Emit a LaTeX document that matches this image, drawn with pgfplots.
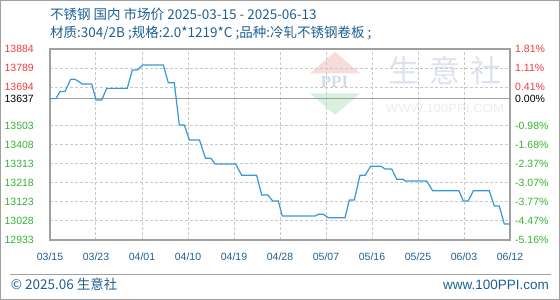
\documentclass[border=0pt]{standalone}
\usepackage{pgfplots}
\pgfplotsset{compat=1.18}
\usepackage{fontspec}
\setmainfont{Liberation Sans}
\newfontfamily\cjk{Noto Sans CJK SC}
\newfontfamily\lib{Liberation Sans}
\newfontfamily\libserif{Liberation Serif}
\definecolor{txtblue}{RGB}{30,95,145}
\definecolor{lineblue}{RGB}{52,152,219}
\definecolor{lred}{RGB}{240,60,60}
\definecolor{lgreen}{RGB}{50,180,50}
\definecolor{gridgray}{RGB}{200,200,200}
\definecolor{framegray}{RGB}{160,160,160}
\definecolor{wmpink}{RGB}{248,220,220}
\definecolor{wmgreen}{RGB}{216,240,222}
\definecolor{wmblue}{RGB}{212,219,232}
\definecolor{wmtext}{RGB}{221,226,238}
\definecolor{wmlight}{RGB}{236,236,236}
\begin{document}
\begin{tikzpicture}[x=1pt,y=1pt]
\useasboundingbox (0,0) rectangle (560,300);
\draw[color=framegray, line width=1pt] (0.5,0.5) rectangle (559.5,299.5);
% watermark
\fill[wmpink] (335,248.3) -- (310,226.7) -- (360,226.7) -- cycle;
\fill[wmgreen] (310,206.7) -- (360,206.7) -- (335,185) -- cycle;
\node[font=\libserif\bfseries\fontsize{17}{17}\selectfont, text=wmblue] at (334.5,218.5) {PPI};
\node[font=\cjk\fontsize{31}{31}\selectfont, text=wmtext] at (445,229) {生\hspace{10pt}意\hspace{10pt}社};
\node[font=\lib\fontsize{12}{12}\selectfont, text=wmlight, xscale=1.1] at (445,192) {WWW.100PPI.COM};
% titles
\node[anchor=base west, inner sep=0, font=\cjk\fontsize{13.5}{14}\selectfont, text=txtblue] at (50,280.5) {不锈钢 国内 市场价 2025-03-15 - 2025-06-13};
\node[anchor=base west, inner sep=0, font=\cjk\fontsize{13.5}{14}\selectfont, text=txtblue] at (50,262) {材质:304/2B ;规格:2.0*1219*C ;品种:冷轧不锈钢卷板 ;};
% footer
\draw[color=framegray, line width=1pt] (10,25) -- (551,25);
\node[anchor=base west, inner sep=0, font=\cjk\fontsize{13.5}{14}\selectfont, text=txtblue] at (10.7,10) {© 2025.06 生意社};
\node[anchor=base east, inner sep=0, font=\lib\fontsize{13.5}{14}\selectfont, text=txtblue] at (549,10) {www.100PPI.com};
\begin{axis}[
  at={(50pt,60pt)}, anchor=south west, scale only axis,
  width=460pt, height=191pt,
  xmin=0, xmax=10, ymin=12933, ymax=13884,
  scaled ticks=false,
  xtick={0,1,2,3,4,5,6,7,8,9,10},
  xticklabels={03/15,03/23,04/01,04/10,04/19,04/28,05/07,05/16,05/25,06/03,06/12},
  ytick={12933,13028,13123,13218,13313,13408,13503,13694,13789,13884},
  yticklabels={\textcolor{lgreen}{12933},\textcolor{lgreen}{13028},\textcolor{lgreen}{13123},\textcolor{lgreen}{13218},\textcolor{lgreen}{13313},\textcolor{lgreen}{13408},\textcolor{lgreen}{13503},\textcolor{lred}{13694},\textcolor{lred}{13789},\textcolor{lred}{13884}},
  extra y ticks={13637},
  extra y tick labels={\textcolor{black}{13637}},
  extra y tick style={grid=major, major grid style={solid, color=framegray, line width=1.2pt}},
  grid=major,
  major grid style={color=gridgray, line width=1pt, dash pattern=on 3pt off 2pt},
  major tick length=0pt,
  axis line style={color=framegray, line width=1.2pt},
  tick label style={font=\lib\fontsize{10.5}{11}\selectfont},
  xticklabel style={anchor=base, inner sep=0pt, yshift=-20.5pt, text=txtblue},
  yticklabel style={anchor=east, inner sep=0pt, xshift=-16pt},
  clip=false,
]
\addplot[color=lineblue, line width=1.2pt, mark=none] coordinates {
(0,13637) (0.130,13637) (0.217,13672) (0.326,13672) (0.450,13733) (0.543,13733)
(0.652,13718) (0.689,13710) (0.907,13710) (1.000,13630) (1.124,13630) (1.233,13688)
(1.680,13688) (1.789,13779) (1.898,13779) (2.015,13804) (2.463,13804) (2.572,13716)
(2.702,13716) (2.811,13506) (2.920,13506) (3.028,13431) (3.250,13431) (3.380,13340)
(3.500,13340) (3.587,13311) (4.037,13311) (4.167,13255) (4.493,13255) (4.602,13157)
(4.739,13157) (4.841,13127) (4.963,13127) (5.050,13052) (5.761,13052) (5.833,13061)
(5.941,13061) (6.050,13044) (6.413,13044) (6.507,13132) (6.615,13132) (6.739,13255)
(6.848,13255) (6.972,13300) (7.196,13300) (7.283,13287) (7.428,13287) (7.537,13235)
(7.680,13235) (7.717,13227) (8.189,13227) (8.320,13178) (8.891,13178) (8.985,13127)
(9.093,13127) (9.202,13178) (9.550,13178) (9.659,13102) (9.767,13102) (9.876,13013)
(10,13013)
};
\end{axis}
\begin{axis}[
  at={(50pt,60pt)}, anchor=south west, scale only axis,
  width=460pt, height=191pt,
  xmin=0, xmax=10, ymin=12933, ymax=13884,
  scaled ticks=false,
  xtick=\empty,
  hide x axis,
  axis line style={draw=none},
  ytick={12933,13028,13123,13218,13313,13408,13503,13637,13694,13789,13884},
  yticklabels={\textcolor{lgreen}{-5.16\%},\textcolor{lgreen}{-4.47\%},\textcolor{lgreen}{-3.77\%},\textcolor{lgreen}{-3.07\%},\textcolor{lgreen}{-2.37\%},\textcolor{lgreen}{-1.68\%},\textcolor{lgreen}{-0.98\%},\textcolor{black}{0.00\%},\textcolor{lred}{0.41\%},\textcolor{lred}{1.11\%},\textcolor{lred}{1.81\%}},
  yticklabel pos=right,
  major tick length=0pt,
  tick label style={font=\lib\fontsize{10.5}{11}\selectfont},
  yticklabel style={anchor=west, inner sep=0pt, xshift=5pt},
]
\addplot[draw=none, forget plot] coordinates {(0,13637) (10,13637)};
\end{axis}
\end{tikzpicture}
\end{document}
